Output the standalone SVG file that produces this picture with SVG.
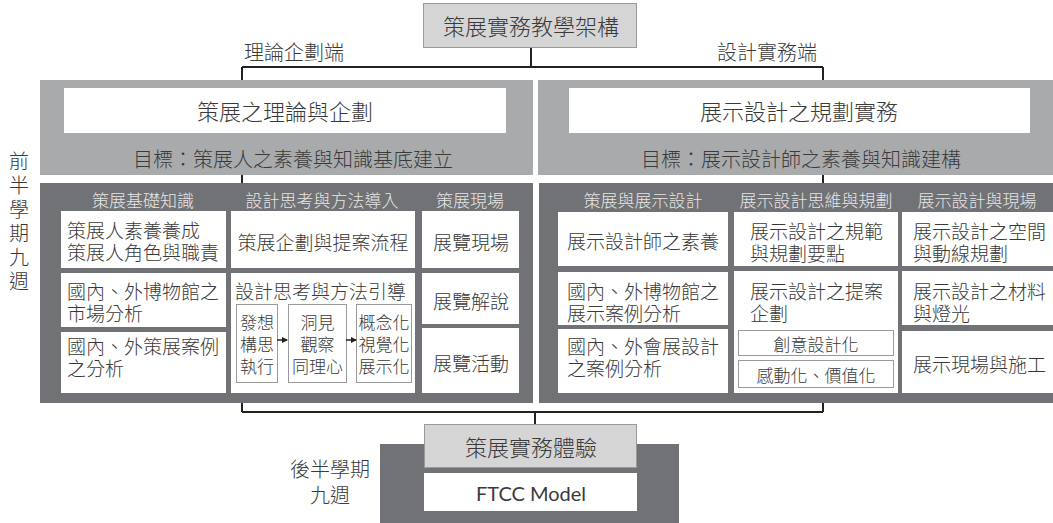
<svg xmlns="http://www.w3.org/2000/svg" width="1053" height="523" viewBox="0 0 1053 523">
<style>
text{font-family:"Noto Sans CJK TC","Noto Sans CJK SC",sans-serif;font-weight:300;fill:#3a3a3a;dominant-baseline:central}
.t22{font-size:22px}
.t20{font-size:20px}
.t19{font-size:19px}
.t17{font-size:17px}
.hd{font-size:17px;fill:#e6e6e6;text-anchor:middle}
.mid{text-anchor:middle}
.lt{fill:#a9aaac}
.dk{fill:#717275}
.cell{fill:#ffffff}
.sub{fill:#ffffff;stroke:#9a9a9a;stroke-width:1}
.gbox{fill:#d5d5d5;stroke:#9a9a9a;stroke-width:1}
.con{fill:none;stroke:#222;stroke-width:2}
</style>
<defs>
<marker id="ah" markerWidth="6" markerHeight="6" refX="5" refY="3" orient="auto" markerUnits="userSpaceOnUse">
<path d="M0,0 L6,3 L0,6 z" fill="#222"/>
</marker>
</defs>
<rect width="1053" height="523" fill="#ffffff"/>

<g id="connectors">
<path class="con" d="M531,48 V67 M242,67 H823 M242,67 V412 M823,67 V412 M242,412 H823 M535,412 V424"/>
</g>

<g id="root">
<rect class="gbox" x="423.5" y="3.5" width="213" height="44"/>
<text class="t22 mid" x="531" y="25">策展實務教學架構</text>
</g>

<g id="label-left"><text class="t20 mid" x="294" y="51">理論企劃端</text></g>
<g id="label-right"><text class="t20 mid" x="767" y="51">設計實務端</text></g>

<g id="side-first">
<text class="t20 mid" x="19" y="160">前<tspan x="19" dy="24">半</tspan><tspan x="19" dy="24">學</tspan><tspan x="19" dy="24">期</tspan><tspan x="19" dy="24">九</tspan><tspan x="19" dy="24">週</tspan></text>
</g>

<g id="top-left">
<rect class="lt" x="40" y="80" width="493" height="95"/>
<rect class="cell" x="64" y="88" width="442" height="45"/>
<text class="t22 mid" x="285" y="110">策展之理論與企劃</text>
<text class="t20" x="133" y="158">目標：策展人之素養與知識基底建立</text>
</g>

<g id="top-right">
<rect class="lt" x="538" y="80" width="515" height="95"/>
<rect class="cell" x="569" y="88" width="461" height="45"/>
<text class="t22 mid" x="799" y="110">展示設計之規劃實務</text>
<text class="t20" x="641" y="158">目標：展示設計師之素養與知識建構</text>
</g>

<g id="lower-left">
<rect class="dk" x="40" y="183" width="493" height="220"/>
<text class="hd" x="143" y="199">策展基礎知識</text>
<text class="hd" x="322" y="199">設計思考與方法導入</text>
<text class="hd" x="470" y="199">策展現場</text>
</g>
<g id="ll-c1r1"><rect class="cell" x="61" y="211" width="165" height="57"/>
<text class="t19" x="67" y="229">策展人素養養成<tspan x="67" dy="22">策展人角色與職責</tspan></text></g>
<g id="ll-c1r2"><rect class="cell" x="61" y="273" width="165" height="54"/>
<text class="t19" x="67" y="290">國內、外博物館之<tspan x="67" dy="22">市場分析</tspan></text></g>
<g id="ll-c1r3"><rect class="cell" x="61" y="332" width="165" height="61"/>
<text class="t19" x="67" y="345">國內、外策展案例<tspan x="67" dy="22">之分析</tspan></text></g>
<g id="ll-c2r1"><rect class="cell" x="231" y="211" width="184" height="57"/>
<text class="t19 mid" x="323" y="241">策展企劃與提案流程</text></g>
<g id="ll-c2r2"><rect class="cell" x="231" y="273" width="184" height="120"/>
<text class="t19" x="235" y="290">設計思考與方法引導</text></g>
<g id="dt1"><rect class="sub" x="236.5" y="304.5" width="41" height="78"/>
<text class="t17 mid" x="257" y="321">發想<tspan x="257" dy="22">構思</tspan><tspan x="257" dy="22">執行</tspan></text></g>
<g id="dt2"><rect class="sub" x="288.5" y="304.5" width="58" height="78"/>
<text class="t17 mid" x="317.5" y="321">洞見<tspan x="317.5" dy="22">觀察</tspan><tspan x="317.5" dy="22">同理心</tspan></text></g>
<g id="dt3"><rect class="sub" x="356.5" y="304.5" width="55" height="78"/>
<text class="t17 mid" x="384" y="321">概念化<tspan x="384" dy="22">視覺化</tspan><tspan x="384" dy="22">展示化</tspan></text></g>
<g id="ll-c3r1"><rect class="cell" x="422" y="211" width="97" height="57"/>
<text class="t19 mid" x="471" y="241">展覽現場</text></g>
<g id="ll-c3r2"><rect class="cell" x="422" y="273" width="97" height="51"/>
<text class="t19 mid" x="471" y="300">展覽解說</text></g>
<g id="ll-c3r3"><rect class="cell" x="422" y="328" width="97" height="65"/>
<text class="t19 mid" x="471" y="362">展覽活動</text></g>

<g id="lower-right">
<rect class="dk" x="539" y="183" width="514" height="220"/>
<text class="hd" x="643" y="199">策展與展示設計</text>
<text class="hd" x="816" y="199">展示設計思維與規劃</text>
<text class="hd" x="977" y="199">展示設計與現場</text>
</g>
<g id="lr-c1r1"><rect class="cell" x="558" y="212" width="170" height="54"/>
<text class="t19 mid" x="643" y="240">展示設計師之素養</text></g>
<g id="lr-c1r2"><rect class="cell" x="558" y="272" width="170" height="53"/>
<text class="t19" x="567" y="290">國內、外博物館之<tspan x="567" dy="22">展示案例分析</tspan></text></g>
<g id="lr-c1r3"><rect class="cell" x="558" y="329" width="170" height="64"/>
<text class="t19" x="567" y="345">國內、外會展設計<tspan x="567" dy="22">之案例分析</tspan></text></g>
<g id="lr-c2r1"><rect class="cell" x="734" y="212" width="164" height="54"/>
<text class="t19" x="750" y="230">展示設計之規範<tspan x="750" dy="22">與規劃要點</tspan></text></g>
<g id="lr-c2r2"><rect class="cell" x="734" y="271" width="164" height="122"/>
<text class="t19" x="750" y="290">展示設計之提案<tspan x="750" dy="22">企劃</tspan></text></g>
<g id="lr-s1"><rect class="sub" x="738.5" y="330.5" width="155" height="25"/>
<text class="t17 mid" x="816" y="343">創意設計化</text></g>
<g id="lr-s2"><rect class="sub" x="738.5" y="360.5" width="155" height="27"/>
<text class="t17 mid" x="816" y="374">感動化、價值化</text></g>
<g id="lr-c3r1"><rect class="cell" x="902" y="212" width="151" height="54"/>
<text class="t19" x="913" y="230">展示設計之空間<tspan x="913" dy="22">與動線規劃</tspan></text></g>
<g id="lr-c3r2"><rect class="cell" x="902" y="271" width="151" height="54"/>
<text class="t19" x="913" y="290">展示設計之材料<tspan x="913" dy="22">與燈光</tspan></text></g>
<g id="lr-c3r3"><rect class="cell" x="902" y="331" width="151" height="62"/>
<text class="t19" x="913" y="363">展示現場與施工</text></g>

<g id="arrows">
<path class="con" style="stroke-width:1.5" d="M277,340 H287" marker-end="url(#ah)"/>
<path class="con" style="stroke-width:1.5" d="M346,340 H356" marker-end="url(#ah)"/>
</g>

<g id="side-second">
<text class="t20 mid" x="330" y="468">後半學期<tspan x="330" dy="26">九週</tspan></text>
</g>

<g id="bottom">
<rect class="dk" x="380" y="444" width="299" height="79"/>
<rect class="gbox" x="424.5" y="424.5" width="212" height="43"/>
<text class="t22 mid" x="531" y="446">策展實務體驗</text>
<rect class="cell" x="424" y="473" width="213" height="38"/>
<text class="mid" style="font-family:Lato,'Noto Sans',sans-serif;font-size:20px;font-weight:400" x="531" y="493">FTCC Model</text>
</g>
</svg>
